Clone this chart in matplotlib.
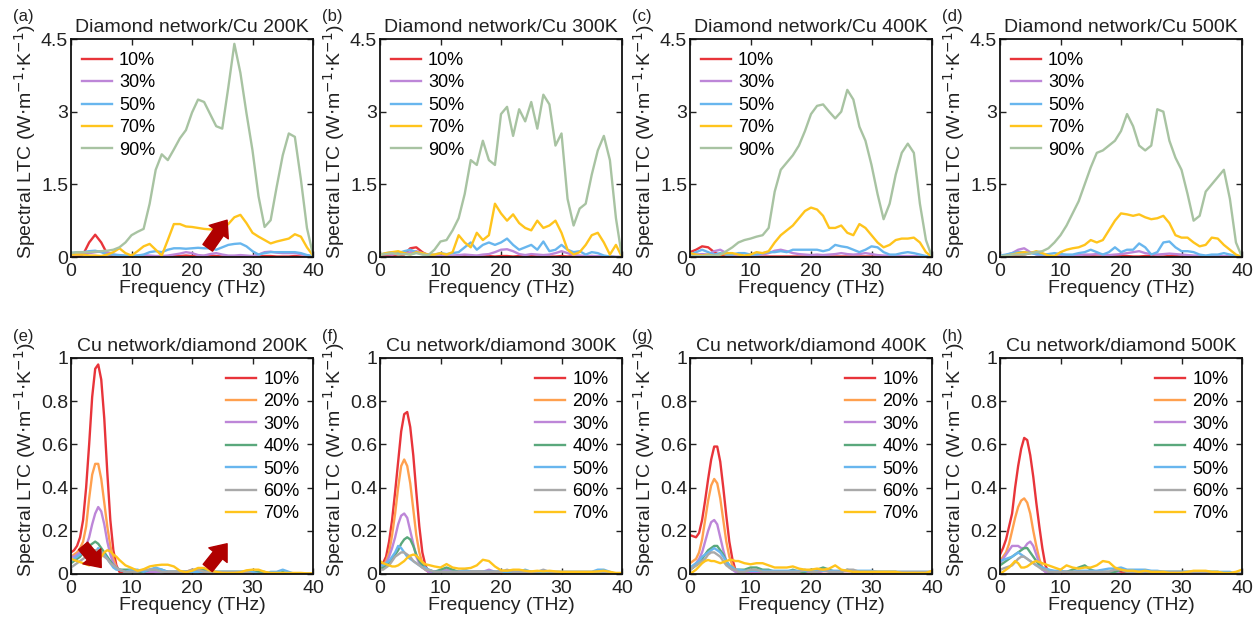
import numpy as np
import matplotlib
matplotlib.use("Agg")
import matplotlib.pyplot as plt

plt.rcParams["font.family"] = ["Liberation Sans", "DejaVu Sans"]

# ---- frequency grids (THz) ----
FREQ_DC = np.arange(0, 41)                                            # diamond network / Cu
FREQ_CD = np.concatenate([np.arange(0, 8.5, 0.5), np.arange(9, 41)])  # Cu network / diamond

# ---- (a) Diamond network/Cu 200K ----
A_10 = [0.00,0.01,0.05,0.30,0.46,0.30,0.06,0.01,0.01,0.00,0.01,0.01,0.00,0.01,0.01,0.00,0.01,0.02,0.02,0.03,
        0.02,0.01,0.02,0.03,0.02,0.01,0.01,0.00,0.01,0.01,0.00,0.01,0.02,0.02,0.01,0.01,0.01,0.02,0.01,0.00,0.00]
A_30 = [0.05,0.05,0.06,0.08,0.10,0.12,0.10,0.05,0.03,0.02,0.02,0.03,0.04,0.03,0.02,0.02,0.03,0.05,0.07,0.10,
        0.08,0.04,0.03,0.06,0.08,0.05,0.03,0.03,0.04,0.03,0.02,0.05,0.10,0.11,0.09,0.08,0.08,0.08,0.06,0.03,0.01]
A_50 = [0.08,0.10,0.10,0.12,0.13,0.10,0.05,0.05,0.04,0.03,0.02,0.03,0.05,0.10,0.12,0.10,0.15,0.18,0.18,0.17,
        0.18,0.19,0.18,0.18,0.15,0.20,0.25,0.27,0.28,0.22,0.12,0.05,0.08,0.10,0.10,0.10,0.10,0.10,0.08,0.04,0.02]
A_70 = [0.05,0.05,0.05,0.03,0.03,0.02,0.05,0.10,0.18,0.08,0.03,0.12,0.22,0.27,0.15,0.03,0.35,0.68,0.68,0.63,
        0.62,0.60,0.58,0.57,0.57,0.60,0.68,0.82,0.87,0.70,0.50,0.42,0.35,0.28,0.32,0.35,0.38,0.47,0.42,0.20,0.03]
A_90 = [0.08,0.10,0.10,0.10,0.11,0.12,0.13,0.15,0.20,0.30,0.45,0.52,0.58,1.10,1.80,2.12,2.00,2.22,2.45,2.62,
        2.98,3.25,3.20,2.95,2.70,2.65,3.50,4.40,3.80,2.97,2.20,1.25,0.62,0.76,1.45,2.10,2.55,2.48,1.60,0.60,0.05]

# ---- (b) Diamond network/Cu 300K ----
B_10 = [0.02,0.03,0.02,0.04,0.05,0.18,0.20,0.10,0.03,0.02,0.03,0.02,0.02,0.01,0.02,0.01,0.02,0.01,0.02,0.01,
        0.02,0.02,0.01,0.02,0.01,0.02,0.01,0.02,0.01,0.01,0.02,0.01,0.02,0.01,0.01,0.02,0.01,0.01,0.01,0.00,0.00]
B_30 = [0.05,0.06,0.05,0.08,0.06,0.10,0.12,0.08,0.05,0.03,0.02,0.03,0.03,0.04,0.05,0.04,0.03,0.05,0.06,0.10,
        0.15,0.16,0.12,0.06,0.04,0.06,0.05,0.04,0.05,0.08,0.12,0.08,0.04,0.03,0.02,0.02,0.02,0.01,0.01,0.00,0.00]
B_50 = [0.05,0.08,0.10,0.08,0.12,0.15,0.10,0.06,0.04,0.05,0.08,0.06,0.08,0.10,0.20,0.30,0.15,0.25,0.30,0.25,
        0.30,0.38,0.25,0.15,0.20,0.25,0.15,0.32,0.12,0.15,0.25,0.15,0.10,0.12,0.05,0.10,0.08,0.03,0.01,0.00,0.00]
B_70 = [0.05,0.08,0.10,0.12,0.08,0.05,0.10,0.08,0.05,0.05,0.08,0.05,0.10,0.45,0.30,0.20,0.50,0.35,0.45,1.10,
        0.90,0.75,0.88,0.70,0.60,0.55,0.75,0.60,0.65,0.75,0.50,0.15,0.05,0.10,0.25,0.45,0.50,0.30,0.05,0.25,0.00]
B_90 = [0.05,0.06,0.08,0.05,0.06,0.05,0.08,0.05,0.04,0.15,0.32,0.35,0.55,0.80,1.30,2.00,1.90,2.40,2.00,1.90,
        2.95,3.10,2.50,3.05,2.80,3.20,2.65,3.35,3.15,2.30,2.55,1.20,0.65,1.00,1.10,1.70,2.20,2.50,2.00,0.80,0.00]

# ---- (c) Diamond network/Cu 400K ----
C_10 = [0.10,0.15,0.22,0.20,0.10,0.03,0.01,0.01,0.01,0.01,0.01,0.01,0.01,0.01,0.01,0.01,0.01,0.01,0.01,0.01,
        0.01,0.01,0.01,0.01,0.01,0.01,0.01,0.01,0.01,0.01,0.01,0.01,0.01,0.00,0.00,0.00,0.00,0.00,0.00,0.00,0.00]
C_30 = [0.03,0.05,0.06,0.05,0.12,0.15,0.08,0.05,0.03,0.02,0.03,0.05,0.05,0.08,0.13,0.15,0.12,0.08,0.06,0.05,
        0.04,0.05,0.04,0.05,0.06,0.08,0.06,0.05,0.06,0.08,0.06,0.04,0.03,0.03,0.02,0.02,0.02,0.02,0.01,0.01,0.00]
C_50 = [0.05,0.10,0.15,0.10,0.05,0.08,0.05,0.05,0.08,0.08,0.05,0.05,0.08,0.10,0.10,0.12,0.10,0.15,0.15,0.15,
        0.15,0.15,0.12,0.15,0.25,0.22,0.20,0.15,0.10,0.15,0.22,0.20,0.10,0.05,0.05,0.08,0.10,0.08,0.05,0.02,0.00]
C_70 = [0.08,0.05,0.03,0.05,0.02,0.05,0.08,0.08,0.05,0.03,0.05,0.10,0.08,0.12,0.30,0.45,0.55,0.65,0.80,0.95,
        1.02,0.98,0.85,0.60,0.60,0.65,0.50,0.45,0.68,0.60,0.45,0.30,0.20,0.25,0.35,0.38,0.38,0.40,0.30,0.10,0.00]
C_90 = [0.02,0.02,0.02,0.03,0.03,0.05,0.12,0.20,0.30,0.35,0.38,0.42,0.45,0.60,1.35,1.80,1.95,2.10,2.30,2.60,
        2.95,3.12,3.15,3.00,2.86,3.00,3.45,3.25,2.69,2.40,1.90,1.30,0.78,1.10,1.70,2.15,2.34,2.15,1.10,0.35,0.00]

# ---- (d) Diamond network/Cu 500K ----
D_10 = [0.02,0.02,0.03,0.03,0.05,0.08,0.10,0.05,0.02,0.01,0.01,0.01,0.01,0.01,0.02,0.02,0.01,0.01,0.01,0.02,
        0.03,0.02,0.01,0.01,0.02,0.02,0.01,0.01,0.02,0.02,0.01,0.01,0.01,0.01,0.01,0.01,0.01,0.01,0.01,0.00,0.00]
D_30 = [0.02,0.04,0.08,0.15,0.18,0.10,0.05,0.03,0.02,0.02,0.02,0.03,0.03,0.04,0.05,0.05,0.06,0.05,0.04,0.05,
        0.06,0.08,0.10,0.12,0.08,0.06,0.05,0.06,0.07,0.06,0.05,0.04,0.03,0.03,0.02,0.02,0.02,0.02,0.01,0.01,0.00]
D_50 = [0.03,0.05,0.08,0.10,0.10,0.08,0.06,0.05,0.06,0.08,0.06,0.05,0.05,0.08,0.10,0.15,0.10,0.05,0.10,0.20,
        0.10,0.15,0.15,0.28,0.20,0.05,0.10,0.30,0.32,0.20,0.12,0.12,0.10,0.05,0.03,0.05,0.05,0.08,0.05,0.02,0.00]
D_70 = [0.00,0.02,0.05,0.08,0.10,0.08,0.12,0.08,0.03,0.02,0.10,0.15,0.18,0.20,0.25,0.35,0.30,0.35,0.55,0.75,
        0.90,0.88,0.85,0.88,0.82,0.78,0.80,0.85,0.70,0.45,0.40,0.40,0.30,0.22,0.25,0.40,0.38,0.25,0.15,0.05,0.00]
D_90 = [0.02,0.03,0.05,0.05,0.05,0.08,0.10,0.12,0.18,0.30,0.45,0.65,0.90,1.15,1.50,1.85,2.15,2.20,2.30,2.40,
        2.60,2.95,2.70,2.30,2.20,2.30,3.05,3.00,2.40,2.05,1.80,1.30,0.75,0.85,1.35,1.50,1.65,1.80,1.20,0.30,0.00]

# ---- (e) Cu network/diamond 200K ----
E_10 = [0.10,0.11,0.13,0.17,0.25,0.40,0.60,0.82,0.95,0.97,0.90,0.72,0.47,0.25,0.11,0.04,0.01,
        0.01,0.01,0.01,0.01,0.00,0.01,0.01,0.00, 0.00,0.00,0.00,0.01,0.01,0.00,0.00,0.00,
        0.00,0.00,0.00,0.00,0.00,0.00,0.00,0.00, 0.00,0.00,0.00,0.00,0.00,0.00,0.00,0.00]
E_20 = [0.08,0.09,0.10,0.12,0.15,0.22,0.35,0.46,0.51,0.51,0.44,0.33,0.22,0.13,0.07,0.03,0.02,
        0.01,0.01,0.01,0.01,0.01,0.01,0.01,0.01, 0.01,0.01,0.01,0.02,0.01,0.01,0.00,0.00,
        0.00,0.00,0.00,0.00,0.00,0.00,0.00,0.00, 0.00,0.00,0.00,0.00,0.00,0.00,0.00,0.00]
E_30 = [0.08,0.08,0.09,0.10,0.11,0.13,0.17,0.23,0.28,0.31,0.29,0.23,0.15,0.09,0.05,0.03,0.02,
        0.01,0.01,0.01,0.01,0.01,0.01,0.01,0.01, 0.01,0.01,0.01,0.01,0.01,0.01,0.01,0.00,
        0.00,0.00,0.00,0.00,0.00,0.00,0.00,0.00, 0.00,0.00,0.00,0.00,0.00,0.00,0.00,0.00]
E_40 = [0.05,0.06,0.07,0.08,0.10,0.11,0.13,0.14,0.15,0.14,0.12,0.10,0.08,0.06,0.04,0.03,0.02,
        0.02,0.02,0.01,0.01,0.02,0.02,0.02,0.01, 0.01,0.01,0.01,0.01,0.02,0.02,0.01,0.01,
        0.01,0.01,0.01,0.01,0.01,0.01,0.01,0.01, 0.00,0.00,0.01,0.00,0.00,0.00,0.00,0.00]
E_50 = [0.06,0.07,0.08,0.09,0.10,0.11,0.12,0.11,0.10,0.12,0.10,0.09,0.07,0.05,0.03,0.02,0.02,
        0.01,0.02,0.02,0.01,0.02,0.03,0.02,0.01, 0.01,0.01,0.01,0.01,0.01,0.01,0.01,0.01,
        0.01,0.01,0.01,0.01,0.01,0.01,0.00,0.00, 0.01,0.01,0.02,0.01,0.00,0.00,0.00,0.00]
E_60 = [0.03,0.04,0.05,0.06,0.07,0.08,0.10,0.11,0.11,0.11,0.10,0.08,0.07,0.05,0.04,0.03,0.02,
        0.01,0.01,0.01,0.02,0.02,0.02,0.01,0.01, 0.01,0.01,0.01,0.02,0.02,0.01,0.01,0.01,
        0.01,0.01,0.01,0.01,0.01,0.00,0.00,0.00, 0.00,0.00,0.00,0.00,0.00,0.00,0.00,0.00]
E_70 = [0.07,0.065,0.06,0.055,0.05,0.045,0.04,0.045,0.05,0.06,0.08,0.10,0.11,0.105,0.09,0.08,0.065,
        0.04,0.028,0.015,0.022,0.035,0.04,0.043,0.043, 0.035,0.015,0.008,0.015,0.028,0.028,0.015,0.01,
        0.005,0.005,0.005,0.008,0.017,0.02,0.02,0.01, 0.005,0.005,0.005,0.005,0.005,0.005,0.003,0.003]

# ---- (f) Cu network/diamond 300K ----
F_10 = [0.04,0.05,0.08,0.15,0.25,0.38,0.52,0.66,0.74,0.75,0.68,0.55,0.38,0.22,0.10,0.04,0.01,
        0.01,0.01,0.01,0.01,0.01,0.01,0.01,0.01, 0.01,0.01,0.00,0.00,0.00,0.00,0.00,0.00,
        0.00,0.00,0.00,0.00,0.00,0.00,0.00,0.00, 0.00,0.00,0.00,0.00,0.00,0.00,0.00,0.00]
F_20 = [0.03,0.04,0.06,0.10,0.18,0.28,0.40,0.50,0.53,0.50,0.42,0.30,0.18,0.10,0.05,0.02,0.01,
        0.01,0.01,0.01,0.01,0.01,0.01,0.01,0.01, 0.01,0.01,0.01,0.01,0.00,0.00,0.00,0.00,
        0.00,0.00,0.00,0.00,0.00,0.00,0.00,0.00, 0.00,0.00,0.00,0.00,0.00,0.00,0.00,0.00]
F_30 = [0.02,0.03,0.05,0.08,0.12,0.17,0.23,0.27,0.28,0.26,0.20,0.14,0.08,0.05,0.03,0.02,0.01,
        0.01,0.01,0.02,0.01,0.01,0.01,0.01,0.01, 0.01,0.02,0.01,0.01,0.01,0.01,0.00,0.00,
        0.00,0.00,0.00,0.00,0.00,0.00,0.00,0.00, 0.00,0.00,0.00,0.00,0.00,0.00,0.00,0.00]
F_40 = [0.02,0.03,0.04,0.05,0.07,0.09,0.11,0.14,0.16,0.17,0.16,0.13,0.09,0.06,0.04,0.03,0.02,
        0.01,0.02,0.03,0.02,0.01,0.01,0.01,0.01, 0.01,0.01,0.01,0.01,0.01,0.01,0.01,0.01,
        0.01,0.00,0.00,0.00,0.00,0.00,0.00,0.00, 0.00,0.00,0.00,0.00,0.00,0.00,0.00,0.00]
F_50 = [0.04,0.04,0.05,0.06,0.08,0.10,0.13,0.12,0.10,0.08,0.07,0.06,0.05,0.04,0.03,0.03,0.02,
        0.01,0.01,0.01,0.01,0.01,0.02,0.01,0.01, 0.01,0.01,0.01,0.01,0.01,0.01,0.01,0.02,
        0.01,0.01,0.01,0.01,0.01,0.01,0.01,0.01, 0.01,0.01,0.01,0.02,0.02,0.01,0.00,0.00]
F_60 = [0.02,0.02,0.03,0.04,0.06,0.08,0.09,0.10,0.10,0.09,0.08,0.06,0.05,0.04,0.03,0.02,0.02,
        0.01,0.01,0.01,0.01,0.01,0.01,0.01,0.01, 0.01,0.01,0.01,0.01,0.02,0.01,0.01,0.01,
        0.01,0.01,0.02,0.01,0.01,0.01,0.01,0.01, 0.01,0.01,0.01,0.01,0.01,0.00,0.00,0.00]
F_70 = [0.06,0.05,0.045,0.04,0.035,0.035,0.04,0.05,0.06,0.075,0.085,0.09,0.085,0.07,0.055,0.045,0.042,
        0.035,0.03,0.046,0.03,0.025,0.025,0.028,0.04, 0.066,0.06,0.035,0.017,0.015,0.02,0.02,0.015,
        0.012,0.015,0.012,0.015,0.012,0.01,0.01,0.01, 0.01,0.01,0.01,0.012,0.015,0.01,0.005,0.005]

# ---- (g) Cu network/diamond 400K ----
G_10 = [0.18,0.175,0.17,0.19,0.25,0.34,0.44,0.53,0.59,0.59,0.52,0.40,0.27,0.15,0.07,0.02,0.00,
        0.00,0.00,0.00,0.00,0.00,0.00,0.00,0.00, 0.00,0.00,0.00,0.00,0.00,0.00,0.00,0.00,
        0.00,0.00,0.00,0.00,0.00,0.00,0.00,0.00, 0.00,0.00,0.00,0.00,0.00,0.00,0.00,0.00]
G_20 = [0.05,0.06,0.07,0.10,0.16,0.25,0.34,0.41,0.44,0.42,0.35,0.25,0.15,0.08,0.04,0.02,0.01,
        0.01,0.01,0.01,0.01,0.01,0.01,0.01,0.01, 0.01,0.01,0.01,0.00,0.00,0.00,0.00,0.00,
        0.00,0.00,0.00,0.00,0.00,0.00,0.00,0.00, 0.00,0.00,0.00,0.00,0.00,0.00,0.00,0.00]
G_30 = [0.02,0.03,0.05,0.07,0.10,0.15,0.20,0.24,0.25,0.23,0.17,0.11,0.06,0.03,0.02,0.01,0.01,
        0.01,0.01,0.01,0.01,0.01,0.01,0.01,0.01, 0.01,0.01,0.01,0.01,0.01,0.00,0.00,0.00,
        0.00,0.00,0.00,0.00,0.00,0.00,0.00,0.00, 0.00,0.00,0.00,0.00,0.00,0.00,0.00,0.00]
G_40 = [0.02,0.03,0.04,0.05,0.07,0.09,0.11,0.12,0.13,0.13,0.11,0.09,0.06,0.04,0.03,0.02,0.02,
        0.02,0.03,0.03,0.02,0.02,0.01,0.01,0.01, 0.02,0.01,0.01,0.02,0.02,0.03,0.02,0.01,
        0.01,0.02,0.01,0.01,0.01,0.01,0.01,0.01, 0.01,0.01,0.00,0.00,0.00,0.00,0.00,0.00]
G_50 = [0.03,0.04,0.05,0.06,0.08,0.09,0.10,0.11,0.12,0.11,0.10,0.08,0.06,0.04,0.03,0.02,0.02,
        0.015,0.015,0.015,0.015,0.015,0.015,0.015,0.015, 0.015,0.015,0.015,0.015,0.015,0.015,0.015,0.015,
        0.015,0.015,0.015,0.015,0.015,0.015,0.01,0.01, 0.01,0.01,0.01,0.01,0.01,0.01,0.01,0.01]
G_60 = [0.02,0.03,0.04,0.05,0.06,0.07,0.09,0.10,0.10,0.09,0.08,0.06,0.04,0.03,0.02,0.02,0.01,
        0.01,0.02,0.02,0.01,0.01,0.01,0.01,0.01, 0.01,0.01,0.02,0.01,0.01,0.02,0.01,0.01,
        0.01,0.02,0.02,0.01,0.01,0.01,0.01,0.01, 0.01,0.01,0.01,0.01,0.01,0.01,0.01,0.01]
G_70 = [0.00,0.01,0.02,0.035,0.05,0.06,0.065,0.06,0.06,0.055,0.05,0.055,0.06,0.065,0.065,0.06,0.06,
        0.05,0.045,0.05,0.05,0.04,0.03,0.03,0.03, 0.035,0.025,0.02,0.02,0.025,0.02,0.025,0.04,
        0.02,0.015,0.01,0.01,0.01,0.01,0.01,0.01, 0.01,0.01,0.005,0.005,0.005,0.005,0.005,0.015]

# ---- (h) Cu network/diamond 500K ----
H_10 = [0.09,0.12,0.16,0.22,0.28,0.40,0.50,0.58,0.63,0.62,0.55,0.45,0.33,0.22,0.12,0.04,0.01,
        0.01,0.01,0.00,0.00,0.00,0.00,0.00,0.00, 0.00,0.00,0.00,0.01,0.01,0.00,0.00,0.00,
        0.00,0.00,0.00,0.00,0.00,0.00,0.00,0.00, 0.00,0.00,0.00,0.00,0.00,0.00,0.00,0.00]
H_20 = [0.06,0.08,0.10,0.14,0.20,0.26,0.31,0.34,0.35,0.33,0.28,0.20,0.13,0.07,0.03,0.01,0.00,
        0.01,0.01,0.01,0.00,0.00,0.00,0.00,0.00, 0.00,0.00,0.00,0.00,0.00,0.00,0.00,0.00,
        0.00,0.00,0.00,0.00,0.00,0.00,0.00,0.00, 0.00,0.00,0.00,0.00,0.00,0.00,0.00,0.00]
H_30 = [0.05,0.07,0.09,0.11,0.13,0.13,0.13,0.12,0.12,0.14,0.15,0.13,0.09,0.05,0.02,0.01,0.00,
        0.01,0.01,0.01,0.01,0.01,0.01,0.01,0.01, 0.01,0.01,0.01,0.00,0.00,0.00,0.00,0.00,
        0.00,0.00,0.00,0.00,0.00,0.00,0.00,0.00, 0.00,0.00,0.00,0.00,0.00,0.00,0.00,0.00]
H_40 = [0.04,0.05,0.06,0.07,0.08,0.09,0.10,0.11,0.12,0.12,0.10,0.08,0.06,0.04,0.03,0.02,0.02,
        0.01,0.01,0.01,0.02,0.03,0.04,0.02,0.01, 0.01,0.01,0.01,0.02,0.01,0.01,0.01,0.01,
        0.01,0.01,0.01,0.01,0.01,0.01,0.01,0.01, 0.01,0.01,0.01,0.01,0.00,0.00,0.00,0.00]
H_50 = [0.06,0.065,0.07,0.075,0.08,0.09,0.10,0.09,0.08,0.07,0.06,0.05,0.04,0.035,0.03,0.025,0.02,
        0.015,0.015,0.01,0.01,0.015,0.015,0.015,0.015, 0.02,0.025,0.025,0.03,0.02,0.02,0.02,0.02,
        0.015,0.015,0.01,0.01,0.01,0.01,0.01,0.01, 0.01,0.01,0.01,0.01,0.01,0.01,0.00,0.00]
H_60 = [0.02,0.025,0.03,0.035,0.04,0.055,0.07,0.08,0.08,0.07,0.06,0.05,0.04,0.03,0.02,0.02,0.01,
        0.01,0.01,0.01,0.01,0.01,0.01,0.01,0.01, 0.01,0.01,0.02,0.02,0.01,0.01,0.01,0.01,
        0.01,0.01,0.01,0.01,0.01,0.01,0.01,0.01, 0.01,0.01,0.00,0.00,0.00,0.00,0.00,0.00]
H_70 = [0.00,0.01,0.02,0.03,0.045,0.06,0.05,0.03,0.03,0.035,0.045,0.055,0.06,0.055,0.05,0.045,0.04,
        0.03,0.02,0.04,0.03,0.025,0.03,0.03,0.04, 0.06,0.055,0.03,0.02,0.015,0.015,0.01,0.015,
        0.01,0.01,0.01,0.005,0.005,0.005,0.01,0.015, 0.015,0.015,0.01,0.01,0.005,0.005,0.01,0.02]

LABELS_DC = ["10%", "30%", "50%", "70%", "90%"]
LABELS_CD = ["10%", "20%", "30%", "40%", "50%", "60%", "70%"]

COLORS = {
    "10%": "#e8343a",
    "20%": "#ffa04e",
    "30%": "#bd86d8",
    "40%": "#5aa87c",
    "50%": "#68b6ee",
    "60%": "#a9a9a9",
    "70%": "#ffc41c",
    "90%": "#a8c3a2",
}

TOP_PANELS = [
    ("(a)", "Diamond network/Cu 200K", [A_10, A_30, A_50, A_70, A_90]),
    ("(b)", "Diamond network/Cu 300K", [B_10, B_30, B_50, B_70, B_90]),
    ("(c)", "Diamond network/Cu 400K", [C_10, C_30, C_50, C_70, C_90]),
    ("(d)", "Diamond network/Cu 500K", [D_10, D_30, D_50, D_70, D_90]),
]
BOTTOM_PANELS = [
    ("(e)", "Cu network/diamond 200K", [E_10, E_20, E_30, E_40, E_50, E_60, E_70]),
    ("(f)", "Cu network/diamond 300K", [F_10, F_20, F_30, F_40, F_50, F_60, F_70]),
    ("(g)", "Cu network/diamond 400K", [G_10, G_20, G_30, G_40, G_50, G_60, G_70]),
    ("(h)", "Cu network/diamond 500K", [H_10, H_20, H_30, H_40, H_50, H_60, H_70]),
]

# red arrows: (panel index, tail, tip)
ARROWS_TOP = [(0, (22.6, 0.19), (25.8, 0.76))]
ARROWS_BOTTOM = [(0, (2.0, 0.13), (5.0, 0.03)), (0, (22.6, 0.028), (25.8, 0.14))]

W, H = 1260, 630
fig = plt.figure(figsize=(W / 100, H / 100), dpi=100)

col_left = [71, 380, 690, 1000]
ax_w = 242
rows = [(39, 257), (358, 574)]


def style_axes(ax, yticks, yticklabels, ymax):
    ax.set_xlim(0, 40)
    ax.set_ylim(0, ymax)
    ax.set_xticks([0, 10, 20, 30, 40])
    ax.set_yticks(yticks)
    ax.set_yticklabels(yticklabels)
    ax.tick_params(direction="in", top=True, right=True, length=4, width=1.0,
                   labelsize=14, colors="#222222")
    ax.tick_params(axis="x", pad=4.5)
    ax.tick_params(axis="y", pad=2)
    for s in ax.spines.values():
        s.set_linewidth(1.3)
        s.set_color("#111111")
    ax.set_xlabel("Frequency (THz)", fontsize=14, labelpad=0, color="#222222")
    ax.set_ylabel(r"Spectral LTC (W$\cdot$m$^{-1}$$\cdot$K$^{-1}$)", fontsize=14, color="#222222")
    ax.yaxis.set_label_coords(-0.135, 0.53)


def add_arrow(ax, tail, tip):
    ax.annotate("", xy=tip, xytext=tail,
                arrowprops=dict(arrowstyle="simple,head_length=0.75,head_width=1.2,tail_width=0.6",
                                color="#b00000", shrinkA=0, shrinkB=0, mutation_scale=14),
                zorder=10)


LEGEND_KW = dict(frameon=False, fontsize=13, handlelength=1.65, handletextpad=0.4,
                 labelspacing=0.3, borderpad=0, borderaxespad=0)

for r, panels in enumerate([TOP_PANELS, BOTTOM_PANELS]):
    top, bot = rows[r]
    for c, (tag, title, series) in enumerate(panels):
        left = col_left[c]
        ax = fig.add_axes([left / W, 1 - bot / H, ax_w / W, (bot - top) / H])
        if r == 0:
            labels, freq = LABELS_DC, FREQ_DC
        else:
            labels, freq = LABELS_CD, FREQ_CD
        for lab, vals in zip(labels, series):
            ax.plot(freq, vals, color=COLORS[lab], lw=1.7, label=lab)
        if r == 0:
            style_axes(ax, [0, 1.5, 3, 4.5], ["0", "1.5", "3", "4.5"], 4.5)
            ax.legend(loc="upper left", bbox_to_anchor=(0.045, 0.94), **LEGEND_KW)
            for i, tail, tip in ARROWS_TOP:
                if i == c:
                    add_arrow(ax, tail, tip)
        else:
            style_axes(ax, [0, 0.2, 0.4, 0.6, 0.8, 1.0],
                       ["0", "0.2", "0.4", "0.6", "0.8", "1"], 1.0)
            ax.legend(loc="upper right", bbox_to_anchor=(0.945, 0.94), **LEGEND_KW)
            for i, tail, tip in ARROWS_BOTTOM:
                if i == c:
                    add_arrow(ax, tail, tip)
        ax.set_title(title, fontsize=14, pad=5, color="#222222")
        fig.text((left - 58) / W, 1 - (top - 22) / H, tag, fontsize=12,
                 ha="left", va="center", color="#222222")

fig.savefig("out.png", dpi=100)
